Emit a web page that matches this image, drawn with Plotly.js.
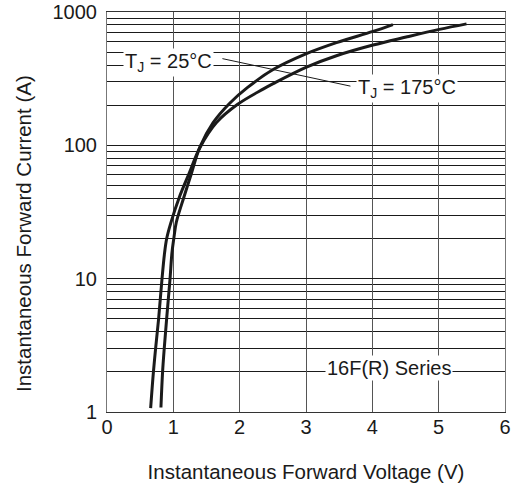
<!DOCTYPE html>
<html>
<head>
<meta charset="utf-8">
<script src="https://cdn.plot.ly/plotly-3.0.1.min.js"></script>
<style>html,body{margin:0;padding:0;background:#fff;}#chart{width:514px;height:485px;}</style>
</head>
<body>
<div id="chart"></div>
<script>
// Forward voltage (V) vs instantaneous forward current (A)
const v25  = [0.813, 0.838, 0.863, 0.899, 0.949, 0.979, 1.01, 1.045, 1.16, 1.27, 1.40, 1.60, 1.85, 2.12, 2.505, 3.007, 3.459, 4.01, 4.31];
const i25  = [1.08, 2.0, 3.0, 5.0, 9.8, 15.6, 20.5, 26.5, 41, 61, 97, 148, 207, 272, 370, 487, 589, 715, 805];
const v175 = [0.658, 0.70, 0.733, 0.778, 0.828, 0.868, 0.90, 0.96, 1.10, 1.24, 1.40, 1.65, 1.97, 2.36, 2.505, 3.007, 3.459, 4.01, 4.51, 5.01, 5.42];
const i175 = [1.07, 2.0, 3.0, 5.0, 9.8, 15.6, 20, 26, 42, 62, 96, 148, 203, 265, 290, 386, 470, 565, 649, 741, 815];
const xTicks = [0, 1, 2, 3, 4, 5, 6];
const yTicks = [1, 10, 100, 1000];
const yTickText = ['1', '10', '100', '1000'];
const yMinor = [2,3,4,5,6,7,8,9,20,30,40,50,60,70,80,90,200,300,400,500,600,700,800,900];

const fam = '"Liberation Sans", Arial, Helvetica, sans-serif';
const font = {family: fam, size: 20, color: '#1a1a1a'};
const titleFont = {family: fam, size: 20.5, color: '#1a1a1a'};

const traces = [
  {x: v25, y: i25, mode: 'lines', name: 'TJ = 25°C',
   line: {color: '#1a1a1a', width: 3, shape: 'spline', smoothing: 1}},
  {x: v175, y: i175, mode: 'lines', name: 'TJ = 175°C',
   line: {color: '#1a1a1a', width: 3, shape: 'spline', smoothing: 1}}
];

const layout = {
  width: 514, height: 485,
  margin: {l: 107, r: 9, t: 12, b: 73},
  paper_bgcolor: '#fff', plot_bgcolor: '#fff',
  showlegend: false,
  font: font,
  xaxis: {
    range: [0, 6], tickvals: xTicks, ticks: '', ticklabelstandoff: -3,
    showgrid: true, gridcolor: '#555', gridwidth: 1,
    showline: true, linecolor: '#333', linewidth: 1, mirror: true,
    zeroline: false, tickfont: font,
    title: {text: 'Instantaneous Forward Voltage (V)', font: titleFont, standoff: 27}
  },
  yaxis: {
    type: 'log', range: [0, 3], tickvals: yTicks, ticktext: yTickText, ticks: '', ticklabelstandoff: 5,
    showgrid: true, gridcolor: '#1a1a1a', gridwidth: 1,
    minor: {tickmode: 'array', tickvals: yMinor, showgrid: true, gridcolor: '#1a1a1a', gridwidth: 1, ticks: ''},
    showline: true, linecolor: '#777', linewidth: 1, mirror: true,
    zeroline: false, tickfont: font
  },
  shapes: [
    {type: 'line', xref: 'x', yref: 'y', x0: 1.74, y0: 447, x1: 3.67, y1: 278,
     line: {color: '#1a1a1a', width: 1}}
  ],
  annotations: [
    {x: -0.2085, y: 0.445, xref: 'paper', yref: 'paper', text: 'Instantaneous Forward Current (A)',
     textangle: -90, showarrow: false, font: titleFont, xanchor: 'center', yanchor: 'middle'},
    {x: 0.92, y: 2.625, xref: 'x', yref: 'y', text: 'T<sub>J</sub> = 25°C', showarrow: false,
     bgcolor: '#fff', font: font, xanchor: 'center', yanchor: 'middle', borderpad: 1},
    {x: 4.52, y: 2.43, xref: 'x', yref: 'y', text: 'T<sub>J</sub> = 175°C', showarrow: false,
     bgcolor: '#fff', font: font, xanchor: 'center', yanchor: 'middle', borderpad: 1},
    {x: 4.245, y: 0.33, xref: 'x', yref: 'y', text: '16F(R) Series', showarrow: false,
     bgcolor: '#fff', font: font, xanchor: 'center', yanchor: 'middle', borderpad: 1}
  ]
};

Plotly.newPlot('chart', traces, layout, {staticPlot: true, displayModeBar: false});
</script>
</body>
</html>
